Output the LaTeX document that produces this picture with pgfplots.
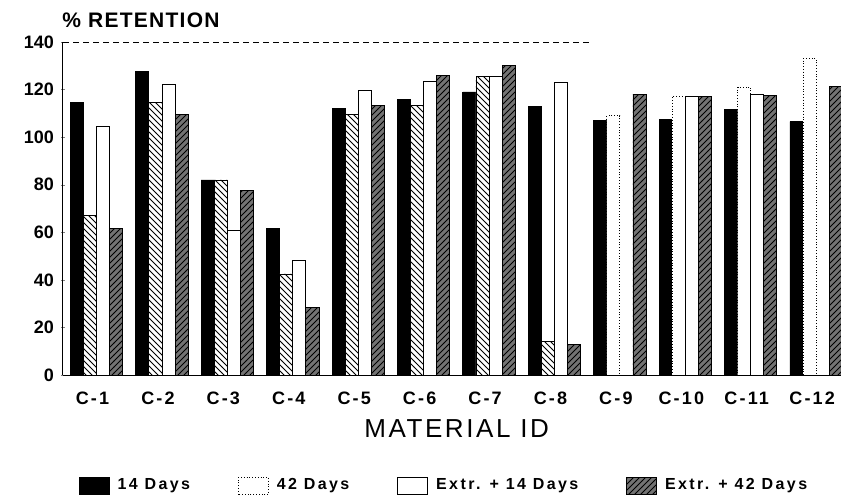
\documentclass[border=0pt]{standalone}
\usepackage{pgfplots}
\pgfplotsset{compat=1.18}
\usepackage{fontspec}
\setmainfont{Liberation Sans}
\usetikzlibrary{patterns}
\begin{document}
\begin{tikzpicture}
\useasboundingbox (-31.5pt,-62pt) rectangle (389pt,187.5pt);
\begin{axis}[
  scale only axis, width=389pt, height=166.5pt,
  ymin=0, ymax=140, xmin=-0.512, xmax=11.38,
  ytick={0,20,...,140},
  xtick={0,...,11},
  xticklabels={C-1,C-2,C-3,C-4,C-5,C-6,C-7,C-8,C-9,C-10,C-11,C-12},
  axis x line=bottom, axis y line=left,
  axis line style={-, line width=0.5pt},
  x axis line style={draw=none},
  major tick length=2pt,
  xtick style={draw=none},
  yticklabel style={font=\fontsize{9}{10}\selectfont\bfseries},
  xticklabel style={font=\fontsize{9}{10}\selectfont\bfseries\addfontfeatures{LetterSpace=12}, yshift=-3pt, xshift=-2pt},
  /pgf/number format/assume math mode=true,
  xlabel={MATERIAL ID},
  xlabel style={font=\fontsize{13}{15}\selectfont\addfontfeatures{LetterSpace=10}, at={(0.506,0)}, anchor=center, yshift=-27pt},
  bar width=0.2,
  ybar=0pt,
  legend columns=4,
  legend style={draw=none, at={(0.491,-0.333)}, anchor=center,
    font=\fontsize{8}{9}\selectfont\bfseries\addfontfeatures{LetterSpace=15},
    /tikz/every odd column/.append style={column sep=2pt},
    /tikz/every even column/.append style={column sep=22pt}},
  legend image code/.code={\draw[#1,/tikz/.cd] (0pt,-4.25pt) rectangle (15pt,4.25pt);},
]
\addplot[fill=black, draw=black, bar shift=-0.3] coordinates {
 (0,114.5) (1,127.5) (2,82) (3,61.5) (4,112) (5,116) (6,119) (7,113)
 (8,107) (9,107.5) (10,111.5) (11,106.5)};
\addlegendentry{14 Days}
\addplot[draw=black, fill=white, densely dotted, bar shift=-0.1] coordinates {
 (8,109) (9,117) (10,121) (11,133)};
\addlegendentry{42 Days}
\addplot[draw=black, fill=white, bar shift=0.1] coordinates {
 (0,104.5) (1,122) (2,61) (3,48) (4,119.5) (5,123.5) (6,125.5) (7,123)
 (9,117) (10,118)};
\addlegendentry{Extr. + 14 Days}
\addplot[draw=black, preaction={fill=black!55}, pattern=north east lines, bar shift=0.3] coordinates {
 (0,61.5) (1,109.5) (2,77.5) (3,28.5) (4,113.5) (5,126) (6,130) (7,13)
 (8,118) (9,117) (10,117.5) (11,121.5)};
\addlegendentry{Extr. + 42 Days}
\addplot[draw=black, fill=white, postaction={pattern=north west lines}, bar shift=-0.1, forget plot] coordinates {
 (0,67) (1,114.5) (2,82) (3,42.5) (4,109.5) (5,113.5) (6,125.5) (7,14)};
\draw[densely dashed, line width=0.6pt] (axis cs:-0.512,140) -- (axis cs:7.55,140);
\draw[line width=0.4pt] (axis cs:-0.512,0) -- (axis cs:11.38,0);
\end{axis}
\node[anchor=west, inner sep=0pt, font=\fontsize{10.5}{12}\selectfont\bfseries\addfontfeatures{LetterSpace=6}] at (-0.5pt,177.5pt) {\% RETENTION};
\end{tikzpicture}
\end{document}
